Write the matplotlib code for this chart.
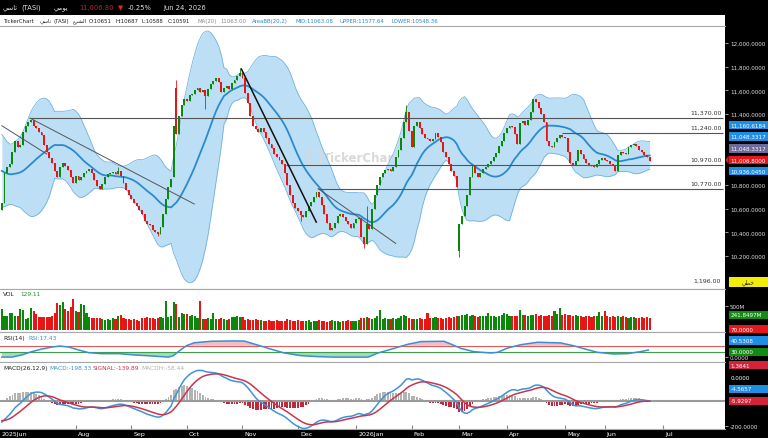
import numpy as np
import pandas as pd
import matplotlib
matplotlib.use("Agg")
import matplotlib.pyplot as plt
from matplotlib.patches import Rectangle, Polygon

plt.rcParams['font.family'] = ['DejaVu Sans']

W, H = 768, 439

# ---------------- data ----------------
# closes before the visible window (only used to warm up MA/BB/MACD)
warmup_close = [11850, 11820, 11840, 11790, 11760, 11770, 11720, 11690, 11700, 11650,
                11620, 11640, 11590, 11560, 11570, 11520, 11490, 11500, 11450, 11420,
                11430, 11380, 11350, 11360, 11310, 11280, 11290, 11240, 11210, 11220,
                11170, 11140, 11150, 11100, 11070, 11080, 11030, 11000, 11010, 10960,
                10930, 10940, 10890, 10860, 10870, 10820, 10790, 10760, 10700, 10640]

close = [10650, 10900, 10950, 10980, 11080, 11170, 11120, 11140, 11250, 11300,
         11330, 11350, 11300, 11280, 11250, 11220, 11140, 11080, 11030, 10990,
         10920, 10870, 10950, 10990, 10960, 10930, 10870, 10820, 10880, 10840,
         10870, 10900, 10920, 10940, 10900, 10840, 10790, 10770, 10810, 10870,
         10890, 10900, 10910, 10890, 10920, 10880, 10820, 10760, 10720, 10680,
         10650, 10620, 10590, 10560, 10500, 10470, 10460, 10420, 10400, 10390,
         10450, 10560, 10680, 10780, 10850, 11300, 11230, 11380, 11480, 11530,
         11510, 11560, 11570, 11600, 11620, 11590, 11600, 11550, 11610, 11650,
         11680, 11700, 11670, 11590, 11620, 11640, 11610, 11660, 11690, 11720,
         11750, 11700, 11580, 11490, 11380, 11300, 11270, 11250, 11280, 11250,
         11200, 11150, 11110, 11060, 11040, 11010, 10980, 10900, 10800, 10720,
         10650, 10610, 10580, 10550, 10530, 10580, 10620, 10660, 10700, 10740,
         10700, 10630, 10560, 10480, 10420, 10440, 10480, 10540, 10560, 10530,
         10500, 10470, 10440, 10480, 10510, 10520, 10360, 10300, 10470, 10430,
         10600, 10720, 10800, 10870, 10900, 10930, 10940, 10920, 10950, 11040,
         11100, 11200, 11330, 11420, 11260, 11120, 11300, 11330, 11280, 11230,
         11200, 11190, 11170, 11190, 11240, 11210, 11160, 11080, 11040, 10980,
         10920, 10880, 10780, 10470, 10540, 10620, 10720, 10870, 10960, 10900,
         10870, 10900, 10940, 10950, 10980, 11000, 11040, 11070, 11130, 11170,
         11240, 11280, 11300, 11290, 11230, 11150, 11320, 11340, 11310, 11350,
         11420, 11530, 11500, 11450, 11400, 11330, 11170, 11130, 11120, 11160,
         11200, 11220, 11210, 11200, 11080, 10990, 10970, 11000, 11100, 11060,
         11020, 10990, 10970, 10960, 10950, 10980, 11010, 11030, 11010, 11000,
         10980, 10970, 10920, 11050, 11080, 11070, 11060, 11120, 11140, 11150,
         11130, 11100, 11080, 11050, 11035, 11006.8]

special_open = {0: 10590, 65: 10870, 66: 11620, 173: 10240}
special_high = {44: 10950, 66: 11690, 90: 11790, 138: 10620, 153: 11480}
special_low = {59: 10370, 77: 11440, 113: 10500, 137: 10270, 173: 10190}

volume_m = [440, 300, 290, 360, 350, 300, 290, 440, 420, 230,
            240, 460, 400, 330, 280, 270, 260, 270, 280, 300,
            360, 560, 520, 580, 430, 400, 480, 650, 400, 380,
            540, 520, 360, 260, 250, 250, 240, 250, 230, 200,
            220, 210, 240, 220, 300, 310, 240, 230, 220, 210,
            220, 200, 180, 240, 250, 260, 250, 240, 230, 250,
            260, 250, 600, 280, 300, 580, 540, 260, 350, 330,
            340, 300, 310, 290, 250, 610, 230, 220, 240, 230,
            360, 230, 220, 240, 230, 210, 230, 270, 280, 300,
            260, 270, 210, 220, 200, 210, 220, 200, 210, 190,
            190, 200, 180, 190, 200, 190, 180, 190, 230, 200,
            190, 180, 200, 190, 180, 190, 200, 170, 190, 180,
            200, 190, 180, 170, 190, 200, 180, 190, 170, 180,
            190, 200, 190, 180, 190, 200, 250, 240, 260, 250,
            230, 250, 300, 410, 230, 240, 230, 220, 240, 230,
            250, 300, 320, 290, 240, 230, 220, 230, 240, 230,
            220, 360, 250, 240, 260, 250, 240, 230, 250, 260,
            240, 280, 300, 290, 310, 320, 330, 300, 310, 290,
            280, 300, 290, 300, 360, 300, 290, 280, 300, 310,
            360, 340, 300, 290, 300, 300, 410, 320, 310, 300,
            320, 310, 330, 300, 310, 290, 300, 310, 300, 400,
            330, 460, 320, 330, 310, 320, 300, 310, 290, 290,
            280, 300, 290, 280, 300, 290, 380, 300, 400, 300,
            280, 290, 270, 300, 280, 290, 270, 250, 260, 280,
            250, 240, 270, 250, 260, 241.85]

rsi_idx = [0, 3.8, 7.5, 11.3, 15.1, 18.9, 21.9, 25.3, 29.1, 32.8, 37.7, 44.2, 50.2,
           56.6, 63.0, 64.9, 67.2, 69.8, 72.8, 79.2, 87.9, 91.7, 95.5, 100.8, 106.8,
           113.2, 119.6, 125.7, 138.5, 142.3, 148.3, 153.6, 158.5, 167.2, 169.8,
           173.6, 178.5, 184.9, 187.5, 191.3, 196.2, 202.6, 211.3, 216.2, 221.5,
           225.3, 231.3, 236.6, 241.5, 244.5]
rsi_val = [1, 1, 14, 34, 50, 62, 68, 62, 44, 28, 22, 22, 14,
           8, 1, 10, 40, 70, 88, 97, 99, 98, 80, 54, 26,
           10, 4, 1, 1, 26, 54, 79, 95, 97, 80,
           54, 34, 26, 30, 56, 76, 91, 87, 70, 46,
           30, 20, 22, 34, 44]

month_pos = [28, 49, 70, 91, 112, 134, 155, 173, 191, 213, 228, 250]
month_labels = ['Aug', 'Sep', 'Oct', 'Nov', 'Dec', '2026Jan', 'Feb', 'Mar', 'Apr',
                'May', 'Jun', 'Jul']
first_label = '2025Jun'

level_prices = [11370, 11240, 10970, 10770]
level_start = [10.6, 212, 107.5, 119.6]
trend_lines = [((0, 11301), (17, 11062)),
               ((10.6, 11366), (72.8, 10640)),
               ((119.6, 10771), (149, 10307))]
bold_trend = ((90.6, 11780), (118.9, 10488))

# 11,000 and 11,200 are hidden behind the value boxes in the reference
price_ticks = [10200, 10400, 10600, 10800, 11400, 11600, 11800, 12000]

assert len(close) == 246 and len(volume_m) == 246 and len(rsi_idx) == len(rsi_val)

# ---------------- indicators ----------------
nw = len(warmup_close)
full = pd.Series(warmup_close + close, dtype=float)
ma = full.rolling(20).mean().to_numpy()[nw:]
sd = full.rolling(20).std(ddof=0).to_numpy()[nw:]
upper, lower = ma + 2 * sd, ma - 2 * sd
ema12 = full.ewm(span=12, adjust=False).mean()
ema26 = full.ewm(span=26, adjust=False).mean()
macd_s = ema12 - ema26
sig_s = macd_s.ewm(span=9, adjust=False).mean()
macd = macd_s.to_numpy()[nw:]
sig = sig_s.to_numpy()[nw:]
hist = macd - sig

idx = np.arange(len(close))
c = np.array(close, float)
o = np.array([special_open.get(i, c[i - 1] if i else warmup_close[-1]) for i in idx])
up = c >= o
hi = np.array([special_high.get(i, max(o[i], c[i])) for i in idx])
lo = np.array([special_low.get(i, min(o[i], c[i])) for i in idx])

GREEN, RED = '#0b870b', '#e81515'
cols = np.where(up, GREEN, RED)

# ---------------- layout ----------------
fig = plt.figure(figsize=(W / 100, H / 100), dpi=100, facecolor='white')
XMIN, XMAX = -0.7, 273.5
AX_W = 725


def rect(y0, y1):
    return [0, 1 - y1 / H, AX_W / W, (y1 - y0) / H]


ax = fig.add_axes(rect(27, 290))
axv = fig.add_axes(rect(290, 333))
axr = fig.add_axes(rect(333, 363))
axm = fig.add_axes(rect(363, 430))

for a in (ax, axv, axr, axm):
    a.set_facecolor('white')
    a.set_xlim(XMIN, XMAX)
    for s in ('left', 'right'):
        a.spines[s].set_visible(False)
    for s in ('top', 'bottom'):
        a.spines[s].set_color('#a8a8a8')
        a.spines[s].set_linewidth(0.8)
    a.yaxis.tick_right()
    a.tick_params(axis='y', colors='#e0e0e0', labelsize=4.1, length=2.2, pad=1.3, width=0.5)
    a.tick_params(axis='x', bottom=False, labelbottom=False)

# background blocks
for (x0, y0, x1, y1) in [(0, 0, W, 16), (AX_W, 0, W, H), (0, 430, W, H)]:
    fig.add_artist(Rectangle((x0 / W, 1 - y1 / H), (x1 - x0) / W, (y1 - y0) / H,
                             transform=fig.transFigure, facecolor='black',
                             edgecolor='none', zorder=-1))

# ---- price panel ----
ax.set_ylim(9923, 12143)
ax.set_yticks(price_ticks)
ax.set_yticklabels([f"{v:,.4f}" for v in price_ticks])
ax.fill_between(idx, lower, upper, color='#bddff6', lw=0, zorder=1)
ax.plot(idx, upper, color='#72b3df', lw=0.6, zorder=2)
ax.plot(idx, lower, color='#72b3df', lw=0.6, zorder=2)
ax.text(0.445, 0.50, 'TickerChart', transform=ax.transAxes, fontsize=8.5,
        color='#d9d9d9', weight='bold', ha='left', va='center', zorder=1.5)
ax.add_patch(Rectangle((0.425, 0.475), 0.016, 0.05, transform=ax.transAxes,
                       facecolor='none', edgecolor='#d9d9d9', lw=1.0, zorder=1.5))
ax.plot(idx, ma, color='#2a8ad0', lw=1.3, zorder=3)
ax.vlines(idx, lo, hi, colors=cols, lw=0.6, zorder=4)
ax.bar(idx, np.maximum(np.abs(c - o), 6), bottom=np.minimum(o, c), width=0.72,
       color=cols, lw=0, zorder=5)

for p, s in zip(level_prices, level_start):
    ax.hlines(p, s, XMAX - 0.9, color='#555555', lw=0.8, zorder=6)
    ax.text(XMAX - 1.2, p + 25, f"{p:,.2f}", ha='right', va='bottom', fontsize=4.5,
            color='#333333', zorder=7)
for (x0, y0), (x1, y1) in trend_lines:
    ax.plot([x0, x1], [y0, y1], color='#555555', lw=0.7, zorder=6)
(bx0, by0), (bx1, by1) = bold_trend
ax.plot([bx0, bx1], [by0, by1], color='#111111', lw=1.1, zorder=6)

# ---- volume ----
axv.set_ylim(-42, 853)
axv.bar(idx, volume_m, width=0.8, color=cols, lw=0)
axv.set_yticks([500])
axv.set_yticklabels(['500M'])

# ---- RSI ----
axr.set_ylim(-28.5, 153)
ri = np.array(rsi_idx)
rv = np.array(rsi_val, float)
axr.fill_between(ri, rv, 70, where=rv > 70, interpolate=True, color='#f4bcc6', lw=0)
axr.fill_between(ri, rv, 30, where=rv < 30, interpolate=True, color='#a8dbb8', lw=0)
axr.axhline(70, color='#e05a5a', lw=0.8)
axr.axhline(30, color='#3f9e4a', lw=0.8)
axr.plot(ri, rv, color='#3b8fd0', lw=1.1)
axr.set_yticks([0])
axr.set_yticklabels(['0.0000'])

# ---- MACD ----
axm.set_ylim(-226, 310)
axm.bar(idx, hist, width=0.7, color=np.where(hist >= 0, '#b3b3b3', '#c0283c'), lw=0)
axm.axhline(0, color='#9a9a9a', lw=1.5, zorder=1.5)
axm.plot(idx, macd, color='#3d94d6', lw=1.1, zorder=3)
axm.plot(idx, sig, color='#c8354d', lw=1.1, zorder=3)
axm.set_yticks([-200])
axm.set_yticklabels(['-200.0000'])
axm.set_xticks(month_pos)
axm.tick_params(axis='x', bottom=True, direction='in', length=3, color='#888888',
                labelbottom=False)

# ---------------- texts ----------------
def px(x):
    return x / W


def py(y):
    return 1 - y / H


def xpix(i):
    return (i - XMIN) / (XMAX - XMIN) * AX_W


fig.text(px(2), py(434.5), first_label, color='white', fontsize=4.5, va='center')
for pos, lab in zip(month_pos, month_labels):
    fig.text(px(xpix(pos) + 2), py(434.5), lab, color='white', fontsize=4.5, va='center')

AR_TASI = '\uFEF2\uFEB3\uFE8E\uFE97'          # تاسي
AR_DAILY = '\uFEF2\uFEE3\uFEEE\uFEF3'         # يومي
AR_SHR = '\uFEC9\uFEAE\uFEB8\uFEDF\uFE8D'     # الشرع
AR_LINEAR = '\uFEF2\uFEC4\uFEA7'              # خطي

# header row 1
hdr = [(3, AR_TASI, '#e0e0e0'), (21, '(TASI)', '#e0e0e0'), (54, AR_DAILY, '#e0e0e0'),
       (79, '11,006.80', '#b3263a'), (118, '\u25BC', '#d9262c'), (128, '-0.25%', '#e0e0e0'),
       (163, 'Jun 24, 2026', '#e0e0e0')]
for x, t, col in hdr:
    fig.text(px(x), py(8), t, color=col, fontsize=4.9, va='center')

# header row 2
row2 = [(3, 'TickerChart', '#222222'), (40, AR_TASI, '#222222'), (53, '(TASI)', '#222222'),
        (73, AR_SHR, '#222222'), (89, 'O:10651', '#222222'), (115, 'H:10687', '#222222'),
        (142, 'L:10588', '#222222'), (168, 'C:10591', '#222222'), (197, 'MA(20)', '#8a8a8a'),
        (220, '11063.00', '#8a8a8a'), (252, 'AreaBB(20,2)', '#2a8ad0'),
        (296, 'MID:11063.08', '#2a8ad0'), (340, 'UPPER:11577.64', '#2a8ad0'),
        (392, 'LOWER:10548.36', '#2a8ad0')]
for x, t, col in row2:
    fig.text(px(x), py(21.5), t, color=col, fontsize=3.9, va='center')

# panel titles
for x, y, t, col in [(3, 294.5, 'VOL', '#222222'), (20, 294.5, '129.11', '#2e8b2e'),
                     (3, 338.5, 'RSI(14)', '#222222'), (28, 338.5, 'RSI:17.43', '#3b8fd0'),
                     (3, 368.5, 'MACD(26,12,9)', '#222222'), (49, 368.5, 'MACD:-198.33', '#3b8fd0'),
                     (93, 368.5, 'SIGNAL:-139.89', '#c8354d'), (141, 368.5, 'MACDH:-58.44', '#b0b0b0')]:
    fig.text(px(x), py(y), t, color=col, fontsize=4.2, va='center')

fig.text(px(721), py(281), '1,196.00', color='#333333', fontsize=4.5, ha='right', va='center')

# value boxes in the right column
BLUE, PURPLE, RRED, GRN = '#1f8fe5', '#6c6c9a', '#e5161c', '#138a13'
boxes = [(126, '11,160.6184', BLUE, 'white'), (137.5, '11,048.3317', BLUE, 'white'),
         (149.5, '11,048.3317', PURPLE, 'white'), (161, '11,006.8000', RRED, 'white'),
         (172, '10,936.0450', BLUE, 'white'), (283, AR_LINEAR, '#f2ee0a', '#222222'),
         (316, '241.8497M', GRN, 'white'), (330, '70.0000', RRED, 'white'),
         (341.5, '40.5308', BLUE, 'white'), (353, '30.0000', GRN, 'white'),
         (366, '1.3641', '#d2233a', 'white'), (379, '0.0000', 'black', 'white'),
         (390, '-4.5657', BLUE, 'white'), (402, '-5.9297', '#d2233a', 'white')]
for y, t, bg, fg in boxes:
    hgt = 10 if bg == '#f2ee0a' else 8.5
    fig.add_artist(Rectangle((px(728.5), py(y + hgt / 2)), 39.5 / W, hgt / H,
                             transform=fig.transFigure, facecolor=bg, edgecolor='none',
                             zorder=5))
    if t == '11,006.8000':
        fig.add_artist(Polygon([(px(725.5), py(y)), (px(728.6), py(y - 4.25)),
                                (px(728.6), py(y + 4.25))], closed=True,
                               transform=fig.transFigure, facecolor=bg,
                               edgecolor='none', zorder=5))
    ha = 'center' if bg == '#f2ee0a' else 'left'
    xx = px(748) if ha == 'center' else px(730.5)
    fig.text(xx, py(y), t, color=fg, fontsize=4.1, va='center', ha=ha, zorder=6)

fig.savefig('out.png', dpi=100, facecolor='white')
